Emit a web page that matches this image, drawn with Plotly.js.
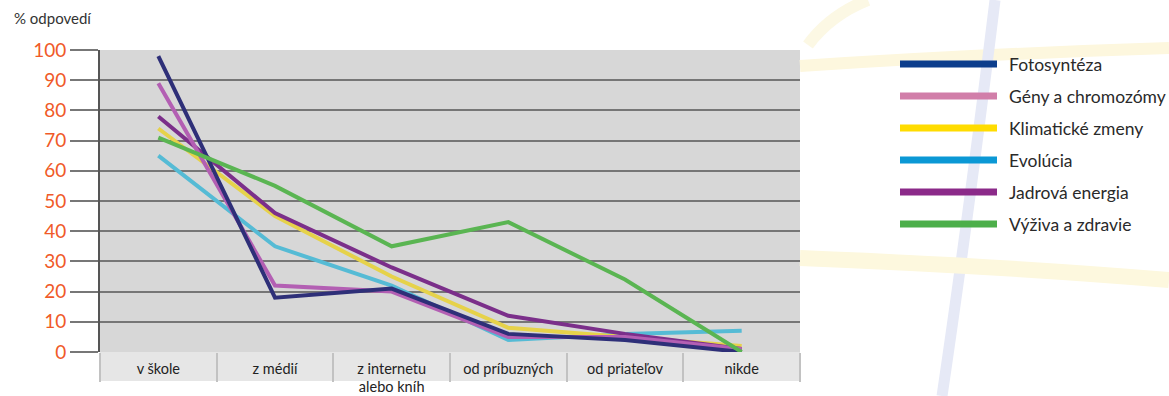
<!DOCTYPE html>
<html>
<head>
<meta charset="utf-8">
<script src="https://cdn.plot.ly/plotly-3.0.1.min.js"></script>
<style>html,body{margin:0;padding:0;background:#fff;}#chart{width:1169px;height:396px;}</style>
</head>
<body>
<div id="chart"></div>
<script>
// ---- data ----
const categories = ["v škole", "z médií", "z internetu<br>alebo kníh", "od príbuzných", "od priateľov", "nikde"];
const seriesNames = ["Fotosyntéza", "Gény a chromozómy", "Klimatické zmeny", "Evolúcia", "Jadrová energia", "Výživa a zdravie"];
const fotosynteza = [98, 18, 21, 6, 4, 0];
const geny        = [89, 22, 20, 5, 5, 1];
const klima       = [74, 45, 25, 8, 5, 2];
const evolucia    = [65, 35, 22, 4, 6, 7];
const jadrova     = [78, 46, 28, 12, 6, 1];
const vyziva      = [71, 55, 35, 43, 24, 0];
const yTicks      = [0, 10, 20, 30, 40, 50, 60, 70, 80, 90, 100];

// ---- styling ----
const seriesValues = [fotosynteza, geny, klima, evolucia, jadrova, vyziva];
const lineColors   = ["#2e2f78", "#b35fb3", "#e6d24a", "#55bbd5", "#7b2f8a", "#5ab552"];
const legendColors = ["#0c3d8c", "#d17ea9", "#ffdc00", "#0b98d5", "#8b2a89", "#4caf4a"];
const drawOrder = [3, 2, 4, 1, 0, 5];
const FONT = "Lato, 'Open Sans', sans-serif";

const traces = drawOrder.map(i => ({
  type: "scatter", mode: "lines",
  x: categories, y: seriesValues[i], name: seriesNames[i],
  line: {color: lineColors[i], width: 4},
  showlegend: false, hoverinfo: "x+y+name"
}));
// helper trace carrying the categories for the divider axis
traces.unshift({type: "scatter", mode: "lines", x: categories, y: categories.map(() => null),
                xaxis: "x2", yaxis: "y", showlegend: false, hoverinfo: "skip"});

// pixel -> paper helpers (plot area: x 100..800, y 50..352)
const PL = 100, PR = 800, PT = 50, PB = 352;
const px = v => (v - PL) / (PR - PL);
const py = v => (PB - v) / (PB - PT);
const P = (x, y) => px(x).toFixed(4) + "," + py(y).toFixed(4);

const shapes = [
  // category band under plot
  {type: "rect", xref: "paper", yref: "paper", x0: 0, x1: 1, y0: py(381), y1: 0,
   fillcolor: "#e6e6e6", line: {width: 0}, layer: "below"},
  // decorative background curves
  {type: "path", xref: "paper", yref: "paper", layer: "below",
   path: "M" + P(800, 66) + " Q" + P(980, 54) + " " + P(1169, 48),
   line: {color: "rgba(253,247,222,1)", width: 12}},
  {type: "path", xref: "paper", yref: "paper", layer: "below",
   path: "M" + P(808, 45) + " Q" + P(830, 15) + " " + P(868, 0),
   line: {color: "rgba(252,248,228,1)", width: 12}},
  {type: "path", xref: "paper", yref: "paper", layer: "below",
   path: "M" + P(995, 0) + " Q" + P(968, 220) + " " + P(942, 396),
   line: {color: "rgba(230,233,246,1)", width: 11}},
  {type: "path", xref: "paper", yref: "paper", layer: "below",
   path: "M" + P(800, 258) + " Q" + P(1000, 266) + " " + P(1169, 280),
   line: {color: "rgba(253,248,222,1)", width: 16}}
];

const annotations = [{
  xref: "paper", yref: "paper", x: px(12), y: py(18), xanchor: "left", yanchor: "middle",
  text: "% odpovedí", showarrow: false, font: {family: FONT, size: 15, color: "#333"}
}];

seriesNames.forEach((name, i) => {
  const yy = py(64 + 32 * i);
  shapes.push({type: "line", xref: "paper", yref: "paper", x0: px(900), x1: px(997), y0: yy, y1: yy,
               line: {color: legendColors[i], width: 7}});
  annotations.push({xref: "paper", yref: "paper", x: px(1007), y: yy, xanchor: "left", yanchor: "middle",
                    text: name, showarrow: false,
                    font: {family: FONT, size: 17.5, color: "#2a2a2a"}});
});

const layout = {
  width: 1169, height: 396,
  margin: {l: PL, r: 1169 - PR, t: PT, b: 396 - PB, pad: 0},
  paper_bgcolor: "#ffffff", plot_bgcolor: "#d7d7d7",
  showlegend: false,
  font: {family: FONT, color: "#222"},
  xaxis: {
    type: "category", range: [-0.5, categories.length - 0.5],
    ticks: "", showgrid: false, showline: false, zeroline: false, fixedrange: true,
    ticklabelstandoff: 6,
    tickfont: {family: FONT, size: 14.5, color: "#222"}
  },
  xaxis2: {
    type: "category", overlaying: "x", matches: "x", anchor: "y", side: "bottom",
    range: [-0.5, categories.length - 0.5],
    tickson: "boundaries", ticks: "outside", ticklen: 29, tickwidth: 2, tickcolor: "#c2c2c2",
    showticklabels: false, showgrid: false, showline: false, zeroline: false, fixedrange: true
  },
  yaxis: {
    range: [0, 100], tickvals: yTicks, ticktext: yTicks.map(String),
    ticks: "outside", ticklen: 28, tickwidth: 2, tickcolor: "#777",
    showgrid: true, gridcolor: "#767676", gridwidth: 2,
    showline: true, linecolor: "#555", linewidth: 2, zeroline: false, fixedrange: true,
    tickfont: {family: FONT, size: 19, color: "#f05a28"}
  },
  shapes: shapes,
  annotations: annotations
};

Plotly.newPlot("chart", traces, layout, {displayModeBar: false, staticPlot: true});
</script>
</body>
</html>
